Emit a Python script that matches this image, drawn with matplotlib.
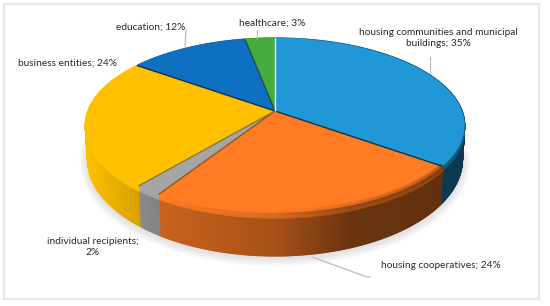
#!/usr/bin/env python3
"""Perspective 3D-look pie chart, built from the shares below."""

import matplotlib
matplotlib.use("Agg")
import matplotlib.pyplot as plt
from matplotlib.collections import PolyCollection
from matplotlib.patches import Rectangle
import numpy as np

# clockwise from 12 o'clock
shares = [35, 24, 2, 24, 12, 3]
colors = ["#2097D6", "#FF7C24", "#A5A5A5", "#FFC000", "#0E70C0", "#44AC3F"]
edge_colors = ["#0B3550", "#8A5A20", "#8A7A30", "#0B3550", "#1D4A50", "#FFFFFF"]
labels = ["housing communities and municipal\nbuildings; 35%",
          "housing cooperatives; 24%",
          "individual recipients;\n2%",
          "business entities; 24%",
          "education; 12%",
          "healthcare; 3%"]
label_pos = [(438, 38), (441, 265), (93, 247), (67, 63), (151, 27), (272, 23)]
leaders = [[(430, 57), (430, 73)],
           [(312, 257), (367, 277), (370, 277)],
           [],
           [],
           [(186, 30), (185, 47)],
           [(257, 30), (257, 38)]]

# projective tilt of the pie disc
CX, CY = 275, 111
A, B, P = 187, 85, 0.1657
LIGHT_X = [84, 153, 275, 350, 464]
LIGHT_F = [1.0, 0.80, 0.65, 0.42, 0.38]


def rim(frac):
    th = 2 * np.pi * np.asarray(frac)
    xx, yy = np.sin(th), np.cos(th)
    den = 1 + P * yy
    return A * xx / den, B * yy / den


def to_top(u, v):
    return CX + u, CY - v


def to_bottom(u, v, t=1.0):
    # t is how far down the side wall, 0 at rim and 1 at base
    return CX + u * (1 - 0.012 * t), CY - v + t * (32.2 - 0.106 * v)


def shade(hex_col, f):
    rgb = np.array(matplotlib.colors.to_rgb(hex_col))
    return tuple(np.clip(rgb * f, 0, 1))


def main():
    plt.rcParams["font.family"] = ["Lato", "DejaVu Sans"]
    fig = plt.figure(figsize=(5.5, 3.06), dpi=100)
    ax = fig.add_axes([0, 0, 1, 1])
    ax.set_xlim(0, 550)
    ax.set_ylim(306, 0)
    ax.axis("off")
    ax.add_patch(Rectangle((4, 4), 535, 295, fc="white", ec="#E8E8E8", lw=1.6))

    # soft drop shadow under the front of the base
    u, v = rim(np.linspace(0.27, 0.78, 300))
    bx, by = to_bottom(u, v)
    for lw in np.arange(12, 1, -2):
        ax.plot(bx, by + 2, color="#707070", alpha=0.03, lw=lw, zorder=1,
                solid_capstyle="round")

    cum = np.concatenate([[0], np.cumsum(shares)]) / np.sum(shares)

    # side wall, split in short pieces so the light can run along it
    for i, col in enumerate(colors):
        fs = np.linspace(cum[i], cum[i + 1], max(int(shares[i] * 8), 8) + 1)
        uu, vv = rim(fs)
        polys, cols = [], []
        for j in range(len(fs) - 1):
            us, vs = uu[j:j + 2], vv[j:j + 2]
            xm = CX + us.mean()
            f = np.interp(xm, LIGHT_X, LIGHT_F)
            for t0, t1, ff in [(0.12, 1.0, f),
                               (0, 0.12, min(f + 0.2, 1.02))]:
                x0, y0 = to_bottom(us, vs, t0)
                x1, y1 = to_bottom(us, vs, t1)
                polys.append(np.column_stack([np.r_[x0, x1[::-1]],
                                              np.r_[y0, y1[::-1]]]))
                cols.append(shade(col, ff))
        ax.add_collection(PolyCollection(polys, facecolors=cols,
                                         edgecolors=cols, linewidths=1.0,
                                         zorder=2 + 0.01 * i))

    # top face
    for i, col in enumerate(colors):
        fs = np.linspace(cum[i], cum[i + 1], max(int(shares[i] * 6), 6) + 1)
        uu, vv = rim(fs)
        x, y = to_top(uu, vv)
        ax.fill(np.r_[CX, x], np.r_[CY, y], color=col, lw=0, zorder=3)

    # darker lip on the right-hand part of the orange rim, fading out
    fs = np.linspace(cum[1], cum[1] + 0.15, 31)
    uu, vv = rim(fs)
    x, y = to_top(uu, vv)
    for j in range(len(fs) - 1):
        fade = 1 - j / (len(fs) - 1)
        for lw in [5, 3.5, 2]:
            ax.plot(x[j:j + 2], y[j:j + 2] - 0.5, color="#5A2A08",
                    alpha=0.18 * fade, lw=lw, zorder=3.1,
                    solid_capstyle="butt")

    # separators between slices
    for i, ec in enumerate(edge_colors):
        uu, vv = rim(cum[i + 1] % 1)
        x, y = to_top(uu, vv)
        ax.plot([CX, x], [CY, y], color=ec, lw=1.0, zorder=3.2,
                solid_capstyle="butt")

    for lab, (lx, ly), ld in zip(labels, label_pos, leaders):
        ax.text(lx, ly, lab, ha="center", va="center",
                fontsize=7.3, color="#2A2A2A", linespacing=1.25, zorder=5)
        if ld:
            xs, ys = zip(*ld)
            ax.plot(xs, ys, color="#BDBDBD", lw=0.9, zorder=4)

    fig.savefig("out.png", dpi=100)
    plt.close(fig)


if __name__ == "__main__":
    main()
